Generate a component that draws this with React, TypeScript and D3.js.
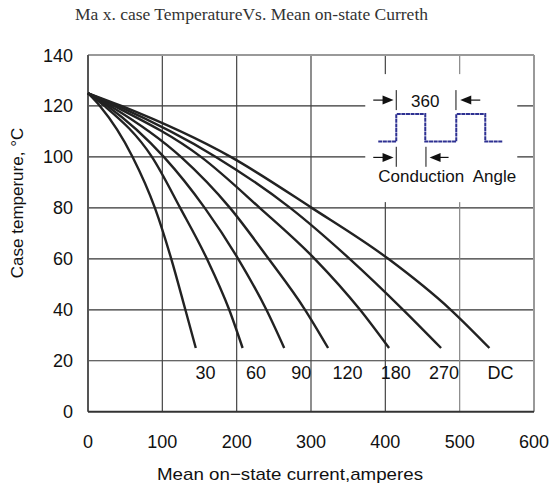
import * as d3 from 'd3'

// curve labels (conduction angle) and their end points
const angles = ['30', '60', '90', '120', '180', '270', 'DC']

// temperature levels (°C)
const tempLevels = [125, 120, 100, 80, 60, 40, 25]

// current (A) at each temperature level, per conduction angle
const current30 = [0, 16, 60, 90, 112, 131, 145]
const current60 = [0, 22, 86, 124, 160, 190, 208]
const current90 = [0, 26, 102, 157, 202, 240, 264]
const current120 = [0, 30, 125, 191, 243, 292, 323]
const current180 = [0, 35, 152, 231, 305, 366, 405]
const current270 = [0, 40, 172, 272, 352, 424, 475]
const currentDC = [0, 45, 192, 301, 404, 488, 540]

const seriesCurrents = [current30, current60, current90, current120, current180, current270, currentDC]

// label anchor (amperes) under each curve
const labelCurrents = [158, 226, 287, 349, 414, 479, 555]
const labelTemp = 13

const xTicks = [0, 100, 200, 300, 400, 500, 600]
const yTicks = [0, 20, 40, 60, 80, 100, 120, 140]

const W = 559
const H = 488
const margin = { top: 55, right: 25, bottom: 76.3, left: 88 }

export default function App() {
  const x = d3.scaleLinear().domain([0, 600]).range([margin.left, W - margin.right])
  const y = d3.scaleLinear().domain([0, 140]).range([H - margin.bottom, margin.top])

  const line = d3
    .line<[number, number]>()
    .x((d) => x(d[0]))
    .y((d) => y(d[1]))
    .curve(d3.curveMonotoneX)

  const sans = 'Liberation Sans, Arial, sans-serif'

  // inset anchor (top-left of the white box), placed in data space
  const ix = x(373)
  const iy = y(132.5)
  const waveLow = 67.5
  const waveHigh = 40
  const wave: [number, number][] = [
    [13, waveLow],
    [31, waveLow],
    [31, waveHigh],
    [60, waveHigh],
    [60, waveLow],
    [91, waveLow],
    [91, waveHigh],
    [120, waveHigh],
    [120, waveLow],
    [137, waveLow],
  ]

  const arrowRight = (tipX: number, yy: number, tail: number) => (
    <g>
      <line x1={tail} y1={yy} x2={tipX - 8} y2={yy} stroke="#111" strokeWidth={1.2} />
      <path d={`M${tipX},${yy} L${tipX - 11},${yy - 4.5} L${tipX - 11},${yy + 4.5} Z`} fill="#111" />
    </g>
  )
  const arrowLeft = (tipX: number, yy: number, tail: number) => (
    <g>
      <line x1={tipX + 8} y1={yy} x2={tail} y2={yy} stroke="#111" strokeWidth={1.2} />
      <path d={`M${tipX},${yy} L${tipX + 11},${yy - 4.5} L${tipX + 11},${yy + 4.5} Z`} fill="#111" />
    </g>
  )

  return (
    <svg width={W} height={H} style={{ position: 'absolute', left: 0, top: 0, background: '#fff' }}>
      <text
        x={75}
        y={20}
        fontFamily="Liberation Serif, serif"
        fontSize={16}
        fill="#333"
        textLength={353}
        lengthAdjust="spacingAndGlyphs"
      >
        Ma x. case TemperatureVs. Mean on-state Curreth
      </text>

      {/* grid */}
      {yTicks.slice(1, -1).map((t) => (
        <line key={'h' + t} x1={x(0)} x2={x(600)} y1={y(t)} y2={y(t)} stroke="#333" strokeWidth={1.2} />
      ))}
      {xTicks.slice(1, -1).map((t) => (
        <line
          key={'v' + t}
          x1={x(t)}
          x2={x(t)}
          y1={y(140)}
          y2={y(0)}
          stroke={t === 500 ? '#888' : '#444'}
          strokeWidth={1.2}
        />
      ))}

      {/* inset background */}
      <rect x={ix} y={iy} width={152} height={128} fill="#fff" />

      {/* frame */}
      <line x1={x(0)} x2={x(600)} y1={y(140)} y2={y(140)} stroke="#999" strokeWidth={2} />
      <line x1={x(600)} x2={x(600)} y1={y(140)} y2={y(0)} stroke="#999" strokeWidth={2} />
      <line x1={x(0)} x2={x(0)} y1={y(140)} y2={y(0)} stroke="#555" strokeWidth={2} />
      <line x1={x(0)} x2={x(600)} y1={y(0)} y2={y(0)} stroke="#333" strokeWidth={2} />

      {/* curves */}
      {seriesCurrents.map((cur, i) => (
        <path
          key={angles[i]}
          d={line(cur.map((c, j) => [c, tempLevels[j]] as [number, number])) || ''}
          fill="none"
          stroke="#222"
          strokeWidth={2.4}
          strokeLinejoin="round"
        />
      ))}

      {angles.map((a, i) => (
        <text
          key={'l' + a}
          x={x(labelCurrents[i])}
          y={y(labelTemp)}
          textAnchor="middle"
          fontFamily={sans}
          fontSize={18}
          fill="#111"
        >
          {a}
        </text>
      ))}

      {/* tick labels */}
      {yTicks.map((t) => (
        <text key={'yt' + t} x={73} y={y(t) + 6.5} textAnchor="end" fontFamily={sans} fontSize={18} fill="#111">
          {t}
        </text>
      ))}
      {xTicks.map((t) => (
        <text key={'xt' + t} x={x(t)} y={447.5} textAnchor="middle" fontFamily={sans} fontSize={18} fill="#111">
          {t}
        </text>
      ))}

      <text
        x={290}
        y={480}
        textAnchor="middle"
        fontFamily={sans}
        fontSize={17}
        fill="#111"
        textLength={266}
        lengthAdjust="spacingAndGlyphs"
      >
        Mean on−state current,amperes
      </text>
      <text
        transform="translate(23,203) rotate(-90)"
        textAnchor="middle"
        fontFamily={sans}
        fontSize={17}
        fill="#111"
      >
        Case temperure, °C
      </text>

      {/* inset: conduction angle */}
      <g transform={`translate(${ix},${iy})`}>
        <path
          d={d3.line()(wave) || ''}
          fill="none"
          stroke="#2e3192"
          strokeWidth={2}
          strokeDasharray="4 0.6"
        />
        {arrowRight(28.3, 26, 8)}
        <line x1={31} x2={31} y1={16} y2={36} stroke="#111" strokeWidth={1} />
        <line x1={90.7} x2={90.7} y1={16} y2={36} stroke="#111" strokeWidth={1} />
        {arrowLeft(95, 26, 115)}
        <text x={60} y={32.5} textAnchor="middle" fontFamily={sans} fontSize={17} fill="#111">
          360
        </text>

        {arrowRight(28.3, 83.3, 8)}
        <line x1={31} x2={31} y1={72.7} y2={92.7} stroke="#111" strokeWidth={1} />
        <line x1={60.7} x2={60.7} y1={72.7} y2={92.7} stroke="#111" strokeWidth={1} />
        {arrowLeft(64.3, 83.3, 83.3)}
        <text x={13} y={107.7} fontFamily={sans} fontSize={17} fill="#111" xmlSpace="preserve">
          Conduction  Angle
        </text>
      </g>
    </svg>
  )
}
